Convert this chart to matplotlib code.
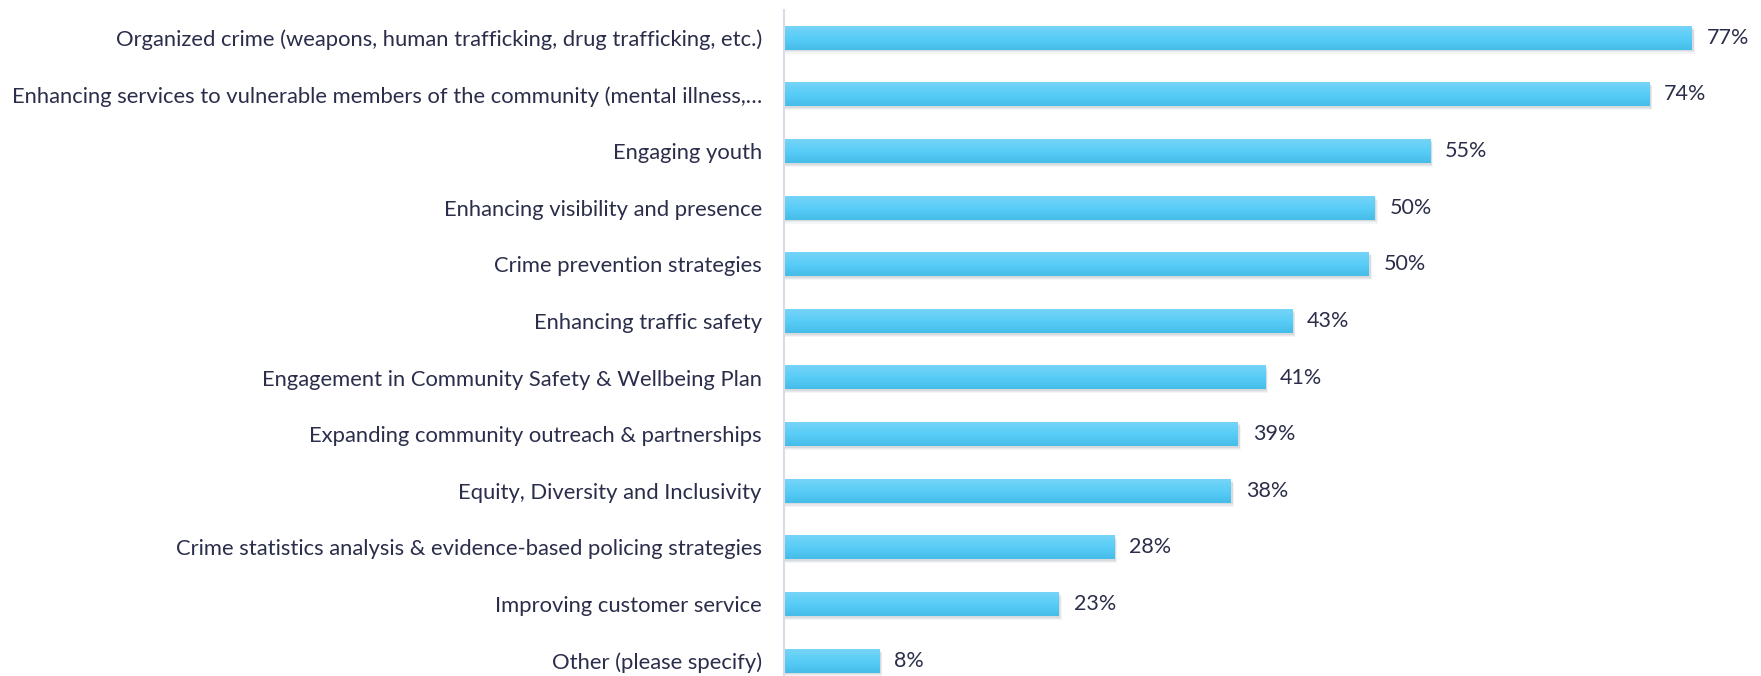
import matplotlib
matplotlib.use("Agg")
import matplotlib.pyplot as plt
import numpy as np
from matplotlib.colors import LinearSegmentedColormap
from matplotlib.patches import Rectangle

categories = [
    "Organized crime (weapons, human trafficking, drug trafficking, etc.)",
    "Enhancing services to vulnerable members of the community (mental illness,…",
    "Engaging youth",
    "Enhancing visibility and presence",
    "Crime prevention strategies",
    "Enhancing traffic safety",
    "Engagement in Community Safety & Wellbeing Plan",
    "Expanding community outreach & partnerships",
    "Equity, Diversity and Inclusivity",
    "Crime statistics analysis & evidence-based policing strategies",
    "Improving customer service",
    "Other (please specify)",
]
values = [77.0, 73.4, 54.8, 50.1, 49.6, 43.1, 40.8, 38.5, 37.9, 28.0, 23.3, 8.1]
value_labels = ["77%", "74%", "55%", "50%", "50%", "43%", "41%", "39%", "38%", "28%", "23%", "8%"]

plt.rcParams['font.family'] = ['Lato', 'DejaVu Sans']
text_color = "#2a2e4a"

W, H = 1761, 676
fig = plt.figure(figsize=(W / 100, H / 100), dpi=100)
ax = fig.add_axes([784 / W, 0, 1 - 784 / W, 666 / H])

n = len(categories)
ypos = np.arange(n)
bh = 0.42
ax.set_xlim(0, (W - 784) / 11.79)
ax.set_ylim(n - 1 + 0.27, -0.49)

cmap = LinearSegmentedColormap.from_list("g", ["#76d4f6", "#58cdf7", "#45bde8"])
grad = np.linspace(0, 1, 64).reshape(-1, 1)
for y, v, lab in zip(ypos, values, value_labels):
    for k, a in enumerate([0.18, 0.14, 0.10]):
        off = 0.03 + 0.02 * k
        ax.add_patch(Rectangle((0.1, y - bh / 2 + off), v + 0.05 * (k + 1), bh,
                               facecolor="#9aa0aa", edgecolor="none", alpha=a, zorder=1))
    ax.imshow(grad, cmap=cmap, aspect="auto", extent=(0, v, y + bh / 2, y - bh / 2),
              zorder=2, interpolation="bilinear")
    ax.text(v + 1.27, y, lab, va="center", ha="left", fontsize=15.5, color=text_color)

ax.set_yticks(ypos)
ax.set_yticklabels(categories, fontsize=15.8, color=text_color)
ax.tick_params(axis="y", length=0, pad=16)
ax.set_xticks([])
for s in ["top", "right", "bottom"]:
    ax.spines[s].set_visible(False)
ax.spines["left"].set_color("#d9dbe9")
ax.spines["left"].set_linewidth(1.5)
ax.spines["left"].set_zorder(5)

fig.savefig("out.png", dpi=100)
